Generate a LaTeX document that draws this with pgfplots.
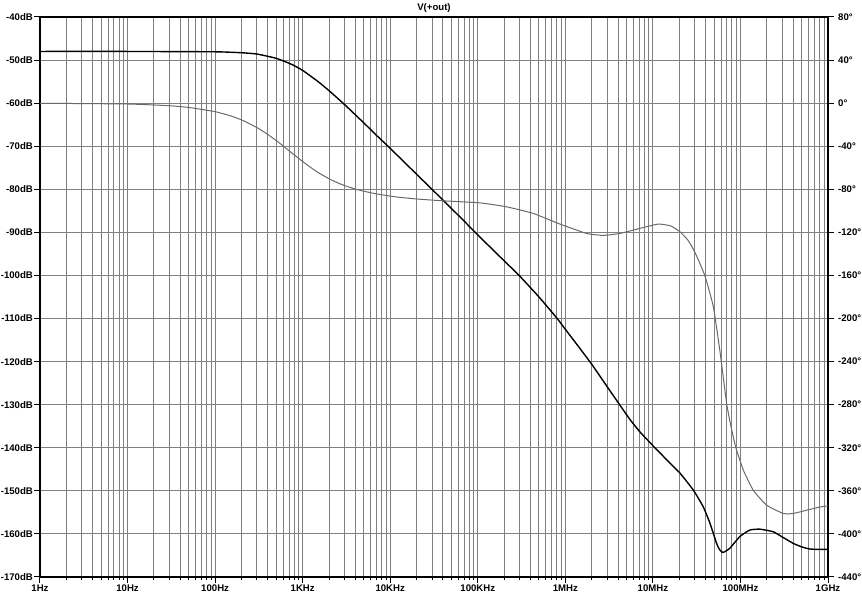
\documentclass[border=0pt]{standalone}
\usepackage{fontspec}
\setmainfont{Liberation Sans}
\usepackage{pgfplots}
\pgfplotsset{compat=1.18}
\definecolor{gridgray}{RGB}{128,128,128}
\definecolor{phasegray}{RGB}{105,105,105}
\begin{document}
\begin{tikzpicture}
\useasboundingbox (-40pt,-32pt) rectangle (822pt,577pt);
\begin{axis}[
  scale only axis, width=788pt, height=560pt,
  xmode=log, xmin=1, xmax=1e9,
  ymin=-170, ymax=-40,
  xtick={1,10,100,1000,10000,100000,1000000,10000000,100000000,1000000000},
  xticklabels={1Hz,10Hz,100Hz,1KHz,10KHz,100KHz,1MHz,10MHz,100MHz,1GHz},
  ytick={-170,-160,-150,-140,-130,-120,-110,-100,-90,-80,-70,-60,-50,-40},
  yticklabels={-170dB,-160dB,-150dB,-140dB,-130dB,-120dB,-110dB,-100dB,-90dB,-80dB,-70dB,-60dB,-50dB,-40dB},
  /pgf/number format/assume math mode=true,
  xmajorgrids, xminorgrids, ymajorgrids,
  major grid style={gridgray, line width=1pt},
  minor grid style={gridgray, line width=1pt},
  xtick pos=bottom, ytick pos=left,
  tick align=outside,
  major tick length=6pt, minor tick length=3pt,
  tick style={black, line width=1pt},
  axis line style={black, line width=1.3pt},
  ticklabel style={font=\bfseries\fontsize{9.6}{10}\selectfont},
  xticklabel style={inner sep=2pt},
  yticklabel style={inner sep=1pt},
  title={V(+out)},
  title style={font=\bfseries\fontsize{9.6}{10}\selectfont, anchor=base, yshift=0.5pt},
]
\addplot[black, line width=1.4pt, smooth, tension=0.3] coordinates {
(1,-48.0) (10,-48.0) (100,-48.08) (200,-48.3) (300,-48.6) (500,-49.6) (750,-51.0)
(1000,-52.4) (1500,-55.0) (2000,-57.1) (3000,-60.3) (5000,-64.6) (7000,-67.5)
(10000,-70.5) (20000,-76.5) (40000,-82.5) (70000,-87.4) (100000,-90.6)
(200000,-96.6) (300000,-100.1) (500000,-105.0) (800000,-109.9) (1000000,-112.5)
(1500000,-117.2) (2000000,-120.6) (3000000,-125.8) (4200000,-130.1) (5500000,-133.5)
(7100000,-136.3) (8500000,-138.0) (10100000,-139.6) (14400000,-142.8) (20400000,-145.9)
(28900000,-149.8) (37600000,-153.7) (44800000,-157.5) (53400000,-162.2)
(57500000,-163.6) (62600000,-164.3) (68000000,-164.0) (75900000,-163.3)
(98600000,-160.6) (128000000,-159.1) (167000000,-158.9) (237000000,-159.5)
(300000000,-160.7) (401000000,-162.2) (500000000,-163.0) (617000000,-163.5)
(800000000,-163.6) (1000000000,-163.6)
};
\end{axis}
\begin{axis}[
  scale only axis, width=788pt, height=560pt,
  xmode=log, xmin=1, xmax=1e9,
  ymin=-440, ymax=80,
  axis x line=none,
  axis y line*=right,
  ytick={-440,-400,-360,-320,-280,-240,-200,-160,-120,-80,-40,0,40,80},
  yticklabels={-440°,-400°,-360°,-320°,-280°,-240°,-200°,-160°,-120°,-80°,-40°,0°,40°,80°},
  /pgf/number format/assume math mode=true,
  tick align=outside,
  major tick length=6pt,
  tick style={black, line width=1pt},
  axis line style={black, line width=1.3pt},
  ticklabel style={font=\bfseries\fontsize{9.6}{10}\selectfont},
  yticklabel style={inner sep=1pt, xshift=3pt},
]
\addplot[phasegray, line width=1pt, smooth, tension=0.3] coordinates {
(1,-0.1) (10,-0.8) (30,-2.4) (50,-4.0) (100,-7.9) (150,-11.8) (200,-15.5)
(300,-22.6) (400,-29.1) (500,-34.8) (600,-39.8) (700,-44.2) (800,-48.0)
(1000,-54.2) (1200,-59.0) (1500,-64.4) (2000,-70.2) (2500,-73.9) (3000,-76.5)
(4000,-79.8) (5000,-81.8) (7000,-84.3) (10000,-86.3) (13000,-87.5) (20000,-89.0)
(40000,-90.7) (106000,-92.6) (214000,-96.3) (430000,-102.4)
(869000,-112.3) (1750000,-121) (2700000,-122.8) (4200000,-121) (7100000,-116.3)
(11500000,-112.3) (16000000,-114) (20400000,-119.5) (25000000,-127)
(30000000,-138) (39000000,-159.7) (49000000,-189) (58000000,-229)
(64000000,-256) (69600000,-279) (76000000,-296) (88000000,-319) (108000000,-340.8)
(140000000,-359.4) (199000000,-373.3) (308000000,-381) (401000000,-381)
(570000000,-378) (809000000,-375) (1000000000,-374)
};
\end{axis}
\end{tikzpicture}
\end{document}
